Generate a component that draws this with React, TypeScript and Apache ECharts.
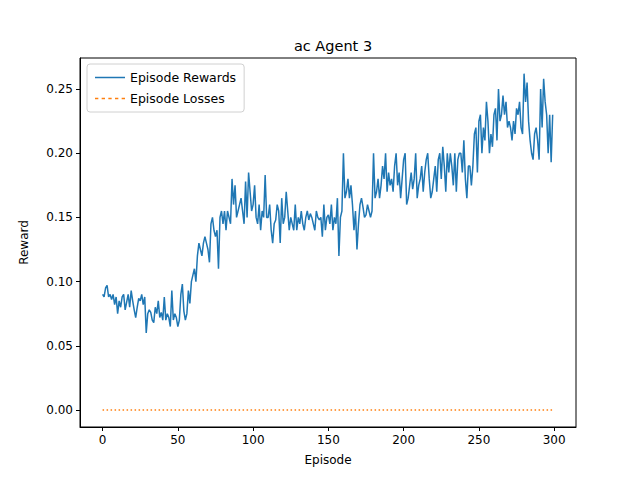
import * as echarts from 'echarts';
import { useEffect, useRef } from 'react';

const rewards: number[] = [
  0.09, 0.088, 0.095, 0.097, 0.088, 0.09, 0.086, 0.09, 0.082, 0.088,
  0.075, 0.085, 0.08, 0.088, 0.09, 0.078, 0.084, 0.09, 0.08, 0.093,
  0.085, 0.078, 0.072, 0.08, 0.087, 0.085, 0.09, 0.082, 0.088, 0.06,
  0.075, 0.078, 0.076, 0.07, 0.068, 0.08, 0.075, 0.085, 0.072, 0.076,
  0.07, 0.088, 0.07, 0.075, 0.072, 0.065, 0.093, 0.07, 0.075, 0.072,
  0.065, 0.07, 0.09, 0.098, 0.077, 0.07, 0.075, 0.093, 0.083, 0.1,
  0.105, 0.11, 0.1, 0.12, 0.13, 0.125, 0.12, 0.13, 0.135, 0.13,
  0.125, 0.115, 0.145, 0.15, 0.14, 0.135, 0.14, 0.11, 0.15, 0.155,
  0.145, 0.155, 0.14, 0.155, 0.15, 0.145, 0.18, 0.16, 0.175, 0.15,
  0.155, 0.16, 0.165, 0.155, 0.145, 0.178, 0.15, 0.185, 0.17, 0.155,
  0.16, 0.175, 0.15, 0.145, 0.16, 0.14, 0.155, 0.15, 0.183, 0.15,
  0.15, 0.16, 0.14, 0.13, 0.145, 0.148, 0.16, 0.155, 0.13, 0.165,
  0.145, 0.15, 0.17, 0.155, 0.14, 0.15, 0.145, 0.14, 0.16, 0.14,
  0.15, 0.145, 0.155, 0.145, 0.14, 0.15, 0.155, 0.148, 0.153, 0.15,
  0.145, 0.14, 0.155, 0.15, 0.148, 0.15, 0.135, 0.16, 0.14, 0.15,
  0.152, 0.145, 0.16, 0.14, 0.15, 0.145, 0.165, 0.12, 0.15, 0.155,
  0.2, 0.165, 0.17, 0.18, 0.165, 0.175, 0.16, 0.14, 0.155, 0.125,
  0.145, 0.16, 0.165, 0.158, 0.15, 0.152, 0.16, 0.155, 0.15, 0.155,
  0.2, 0.165, 0.17, 0.18, 0.165, 0.175, 0.19, 0.18, 0.2, 0.17,
  0.185, 0.175, 0.18, 0.17, 0.19, 0.2, 0.175, 0.185, 0.165, 0.18,
  0.195, 0.2, 0.16, 0.165, 0.175, 0.185, 0.172, 0.18, 0.2, 0.165,
  0.175, 0.18, 0.19, 0.17, 0.185, 0.195, 0.2, 0.18, 0.165, 0.17,
  0.18, 0.19, 0.17, 0.195, 0.2, 0.18, 0.205, 0.19, 0.17, 0.2,
  0.185, 0.2, 0.19, 0.175, 0.2, 0.17, 0.195, 0.2, 0.2, 0.185,
  0.21, 0.18, 0.165, 0.19, 0.19, 0.175, 0.19, 0.215, 0.22, 0.185,
  0.225, 0.23, 0.2, 0.22, 0.21, 0.24, 0.225, 0.2, 0.215, 0.205,
  0.23, 0.235, 0.21, 0.25, 0.225, 0.23, 0.245, 0.23, 0.24, 0.22,
  0.225, 0.22, 0.21, 0.225, 0.215, 0.235, 0.23, 0.24, 0.22, 0.215,
  0.262, 0.24, 0.255, 0.225, 0.21, 0.2, 0.195, 0.215, 0.22, 0.21,
  0.195, 0.25, 0.22, 0.258, 0.24, 0.23, 0.2, 0.23, 0.193, 0.23,
];
const losses: number[] = rewards.map(() => 0);
const xTicks = [0, 50, 100, 150, 200, 250, 300];
const yTicks = [0, 0.05, 0.1, 0.15, 0.2, 0.25];

export default function App() {
  const chartRef = useRef<HTMLDivElement>(null);

  useEffect(() => {
    if (!chartRef.current) return;
    const chart = echarts.init(chartRef.current, undefined, { renderer: 'svg' });
    const font = 'DejaVu Sans';
    const axisCommon = {
      axisLine: { show: true, onZero: false, lineStyle: { color: '#000', width: 1 } },
      splitLine: { show: false },
    };

    chart.setOption({
      animation: false,
      textStyle: { fontFamily: font },
      title: {
        text: 'ac Agent 3',
        left: 328, top: 33, textAlign: 'center',
        textStyle: { fontFamily: font, fontSize: 14.5, fontWeight: 'normal', color: '#000' },
      },
      legend: {
        orient: 'vertical', left: 87, top: 64,
        padding: [7, 8, 7, 8], itemGap: 8, itemWidth: 30, itemHeight: 10,
        backgroundColor: '#fff', borderColor: '#d0d0d0', borderWidth: 1, borderRadius: 3,
        textStyle: { fontFamily: font, fontSize: 12.5, color: '#000' },
        data: [
          { name: 'Episode Rewards', icon: 'path://M0,5L30,5L30,6.5L0,6.5Z' },
          { name: 'Episode Losses', icon: 'path://M0,5L3,5L3,6.5L0,6.5ZM6,5L9,5L9,6.5L6,6.5ZM12,5L15,5L15,6.5L12,6.5ZM18,5L21,5L21,6.5L18,6.5ZM24,5L27,5L27,6.5L24,6.5Z' },
        ],
      },
      grid: { left: 80, right: 64, top: 58, bottom: 53, show: true, borderColor: '#000', borderWidth: 1, backgroundColor: 'transparent' },
      xAxis: {
        type: 'value', min: -15, max: 314.5,
        name: 'Episode', nameLocation: 'middle', nameGap: 27,
        nameTextStyle: { fontFamily: font, fontSize: 12, color: '#000' },
        ...axisCommon,
        axisTick: { show: true, inside: false, length: 4, customValues: xTicks, lineStyle: { color: '#000' } },
        axisLabel: { customValues: xTicks, fontSize: 12, color: '#000', margin: 7 },
      },
      yAxis: {
        type: 'value', min: -0.0133, max: 0.2742,
        name: 'Reward', nameLocation: 'middle', nameGap: 50,
        nameTextStyle: { fontFamily: font, fontSize: 12, color: '#000' },
        ...axisCommon,
        axisTick: { show: true, inside: false, length: 4, customValues: yTicks, lineStyle: { color: '#000' } },
        axisLabel: { customValues: yTicks, fontSize: 12, color: '#000', margin: 7, formatter: (v: number) => v.toFixed(2) },
      },
      series: [
        {
          name: 'Episode Rewards', type: 'line', showSymbol: false, symbol: 'none',
          color: '#1f77b4', lineStyle: { color: '#1f77b4', width: 1.5 },
          data: rewards.map((v, i) => [i, v]),
        },
        {
          name: 'Episode Losses', type: 'line', showSymbol: false, symbol: 'none',
          color: '#ff7f0e', lineStyle: { color: '#ff7f0e', width: 1.5, type: [1.5, 2.5] },
          data: losses.map((v, i) => [i, v]),
        },
      ],
    });

    return () => chart.dispose();
  }, []);

  return <div ref={chartRef} style={{ width: 640, height: 480, margin: -8 }} />;
}
